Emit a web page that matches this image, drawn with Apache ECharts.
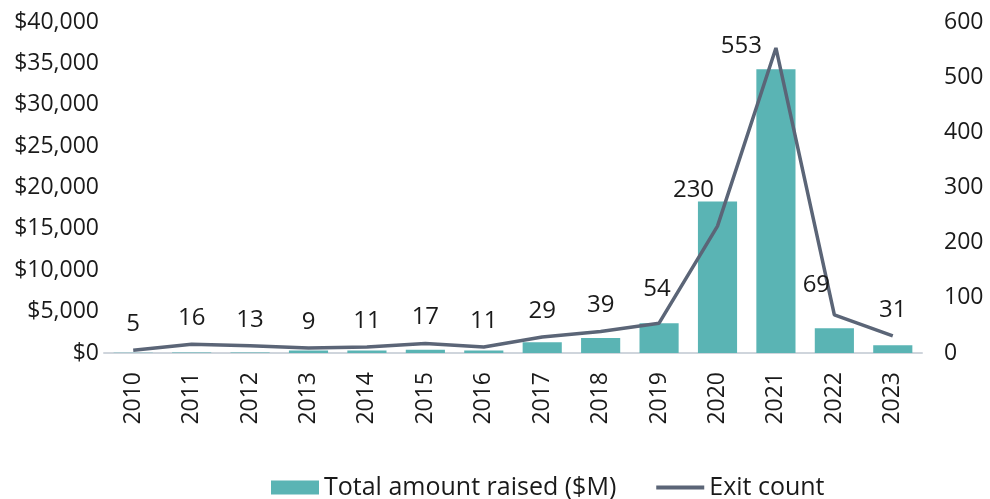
<!DOCTYPE html>
<html>
<head>
<meta charset="utf-8">
<script src="https://cdn.jsdelivr.net/npm/echarts@6/dist/echarts.min.js"></script>
<style>
  html, body { margin: 0; padding: 0; background: #fff; }
  #chart { width: 990px; height: 499px; }
</style>
</head>
<body>
<div id="chart"></div>
<script>
// data
const years = ['2010', '2011', '2012', '2013', '2014', '2015', '2016', '2017', '2018', '2019', '2020', '2021', '2022', '2023'];
const amountRaised = [20, 70, 70, 300, 300, 400, 300, 1300, 1800, 3600, 18300, 34300, 3000, 950];
const exitCount = [5, 16, 13, 9, 11, 17, 11, 29, 39, 54, 230, 553, 69, 31];

const font = '"Open Sans", "Noto Sans", sans-serif';
const ink = '#1a1a1a';
const lineColor = '#5b6577';

// a few labels were moved by hand in the original
const labelTweaks = {
  9: { offset: [-2, -8] },
  10: { offset: [-24, -10] },
  11: { position: 'left', distance: 14, offset: [0, -2] },
  12: { offset: [-18, -4] }
};

let chart = echarts.init(document.getElementById('chart'));
chart.setOption({
  animation: false,
  textStyle: { fontFamily: font },
  grid: { left: 104, right: 68, top: 22, bottom: 146 },
  legend: {
    top: 470,
    left: 266,
    itemGap: 38,
    itemWidth: 48,
    itemHeight: 14,
    textStyle: { fontSize: 25, color: ink, fontFamily: font },
    data: [
      { name: 'Total amount raised ($M)', icon: 'rect' },
      { name: 'Exit count', itemStyle: { opacity: 0 }, lineStyle: { width: 4 } }
    ]
  },
  xAxis: {
    type: 'category',
    data: years,
    axisLine: { lineStyle: { color: '#cfd5dc', width: 2 } },
    axisTick: { show: false },
    axisLabel: { rotate: 90, fontSize: 23, color: ink, margin: 19 }
  },
  yAxis: [
    {
      type: 'value', min: 0, max: 40000, interval: 5000,
      splitLine: { show: false },
      axisLine: { show: false },
      axisLabel: {
        fontSize: 23, color: ink, margin: 5,
        formatter: v => '$' + v.toLocaleString('en-US')
      }
    },
    {
      type: 'value', min: 0, max: 600, interval: 100,
      splitLine: { show: false },
      axisLine: { show: false },
      axisLabel: { fontSize: 23, color: ink, margin: 22 }
    }
  ],
  series: [
    {
      name: 'Total amount raised ($M)',
      type: 'bar',
      data: amountRaised,
      barCategoryGap: '33%',
      itemStyle: { color: '#5ab4b4' }
    },
    {
      name: 'Exit count',
      type: 'line',
      yAxisIndex: 1,
      data: exitCount.map((v, i) => labelTweaks[i] ? { value: v, label: labelTweaks[i] } : { value: v }),
      symbol: 'circle',
      symbolSize: 0.01,
      lineStyle: { color: lineColor, width: 3.5 },
      itemStyle: { color: lineColor },
      label: {
        show: true, position: 'top', distance: 14,
        fontSize: 24, color: ink, fontFamily: font
      }
    }
  ]
});
</script>
</body>
</html>
